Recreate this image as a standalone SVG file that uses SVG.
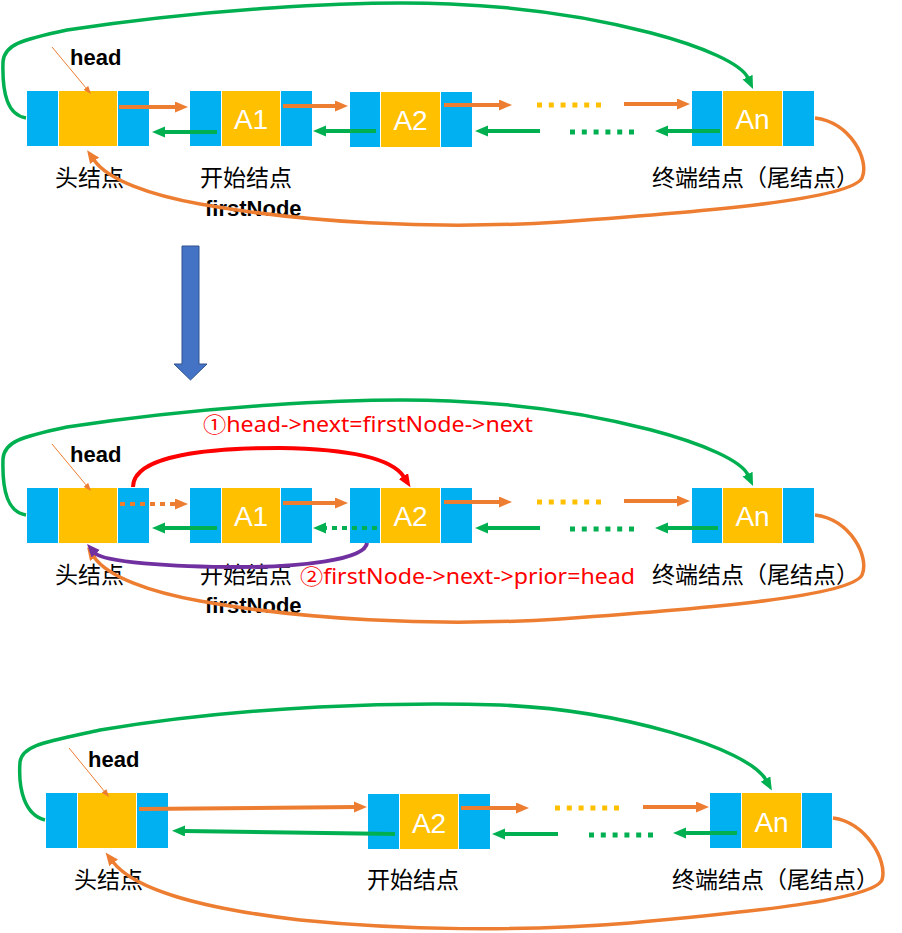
<svg xmlns="http://www.w3.org/2000/svg" width="902" height="933" viewBox="0 0 902 933">
<style>
.b{fill:#00B0F0}
.y{fill:#FFC000}
.nt{font-family:"Liberation Sans",Arial,sans-serif;font-size:28px;fill:#FFFFFF;text-anchor:middle}
.cn{font-family:"Noto Sans CJK SC",sans-serif;font-size:23px;fill:#000000}
.bd{font-family:"Liberation Sans",Arial,sans-serif;font-size:22px;font-weight:bold;fill:#000000}
.rd{font-family:"Noto Sans","Noto Sans CJK SC",sans-serif;font-size:21px;fill:#FF0000}
.ao{stroke:#ED7D31;stroke-width:4;fill:none;marker-end:url(#mo)}
.ag{stroke:#00B050;stroke-width:4;fill:none;marker-end:url(#mg)}
.dy{stroke:#FFC000;stroke-width:5;stroke-dasharray:5 6.8;fill:none}
.dg{stroke:#00B050;stroke-width:5;stroke-dasharray:5 6.8;fill:none}
.cg{stroke:#00B050;stroke-width:3.5;fill:none;marker-end:url(#mg)}
.co{stroke:#ED7D31;stroke-width:3.5;fill:none;marker-end:url(#mo)}
.hp{stroke:#ED7D31;stroke-width:1;fill:none;marker-end:url(#mh)}
</style>
<defs>
<marker id="mo" markerUnits="userSpaceOnUse" markerWidth="14" markerHeight="12" refX="1" refY="5.5" orient="auto"><path d="M0,0 L13,5.5 L0,11 z" fill="#ED7D31"/></marker>
<marker id="mg" markerUnits="userSpaceOnUse" markerWidth="14" markerHeight="12" refX="1" refY="5.5" orient="auto"><path d="M0,0 L13,5.5 L0,11 z" fill="#00B050"/></marker>
<marker id="mr" markerUnits="userSpaceOnUse" markerWidth="14" markerHeight="12" refX="1" refY="5.5" orient="auto"><path d="M0,0 L13,5.5 L0,11 z" fill="#FF0000"/></marker>
<marker id="mp" markerUnits="userSpaceOnUse" markerWidth="14" markerHeight="12" refX="1" refY="5.5" orient="auto"><path d="M0,0 L13,5.5 L0,11 z" fill="#7030A0"/></marker>
<marker id="mh" markerUnits="userSpaceOnUse" markerWidth="9" markerHeight="7" refX="0" refY="3" orient="auto"><path d="M0,0 L8,3 L0,6 z" fill="#ED7D31"/></marker>
</defs>

<!-- ===== Section 1 ===== -->
<g id="s1-head"><rect class="b" x="27" y="91" width="31" height="55"/><rect class="y" x="59" y="91" width="58" height="55"/><rect class="b" x="118" y="91" width="31" height="55"/></g>
<g id="s1-a1"><rect class="b" x="190" y="91" width="31" height="55"/><rect class="y" x="222" y="91" width="58" height="55"/><rect class="b" x="281" y="91" width="31" height="55"/><text class="nt" x="251" y="129">A1</text></g>
<g id="s1-a2"><rect class="b" x="350" y="92" width="30" height="55"/><rect class="y" x="381" y="92" width="59" height="55"/><rect class="b" x="441" y="92" width="31" height="55"/><text class="nt" x="410.5" y="130">A2</text></g>
<g id="s1-an"><rect class="b" x="692" y="91" width="30" height="55"/><rect class="y" x="723" y="91" width="59" height="55"/><rect class="b" x="783" y="91" width="31" height="55"/><text class="nt" x="752.5" y="129">An</text></g>
<g id="s1-labels">
<text class="bd" x="70" y="65">head</text>
<text class="cn" x="55" y="186">头结点</text>
<text class="cn" x="200" y="186">开始结点</text>
<text class="bd" x="205" y="216">firstNode</text>
<text class="cn" x="652" y="186">终端结点（尾结点）</text>
</g>
<g id="s1-connectors">
<path class="hp" d="M52,47 L85.9,87.8"/>
<path class="ao" d="M119,107 L176,107"/>
<path class="ag" d="M217,132 L164,132"/>
<path class="ao" d="M283,106 L336,106"/>
<path class="ag" d="M376,131 L325,131"/>
<path class="ao" d="M444,105 L500,105"/>
<path class="dy" d="M537,105 L601,105"/>
<path class="ao" d="M624,104 L678,104"/>
<path class="ag" d="M540,131 L487,131"/>
<path class="dg" d="M570,132 L634,132"/>
<path class="ag" d="M720,131 L667,131"/>
<path class="cg" d="M26,118 C8,115 2,95 3,62 C4,45 20,40 67,30 C200,10 350,0 450,4 C600,10 735,50 748,78"/>
<path class="co" d="M815,118 C850,122 870,160 862,178 C850,200 700,212 560,222 C430,230 300,222 200,204 C150,195 108,180 94,160"/>
</g>

<!-- Block arrow -->
<g id="down-arrow"><polygon points="182,246 199,246 199,364 207,364 190.5,380 174,364 182,364" fill="#4472C4" stroke="#2F528F" stroke-width="1"/></g>

<!-- ===== Section 2 ===== -->
<g id="s2-head"><rect class="b" x="27" y="488" width="31" height="55"/><rect class="y" x="59" y="488" width="58" height="55"/><rect class="b" x="118" y="488" width="31" height="55"/></g>
<g id="s2-a1"><rect class="b" x="190" y="488" width="31" height="55"/><rect class="y" x="222" y="488" width="58" height="55"/><rect class="b" x="281" y="488" width="31" height="55"/><text class="nt" x="251" y="526">A1</text></g>
<g id="s2-a2"><rect class="b" x="350" y="488" width="30" height="55"/><rect class="y" x="381" y="488" width="59" height="55"/><rect class="b" x="441" y="488" width="31" height="55"/><text class="nt" x="410.5" y="526">A2</text></g>
<g id="s2-an"><rect class="b" x="692" y="488" width="30" height="55"/><rect class="y" x="723" y="488" width="59" height="55"/><rect class="b" x="783" y="488" width="31" height="55"/><text class="nt" x="752.5" y="526">An</text></g>
<g id="s2-labels">
<text class="bd" x="70" y="462">head</text>
<text class="cn" x="55" y="583">头结点</text>
<text class="cn" x="200" y="583">开始结点</text>
<text class="bd" x="205" y="613">firstNode</text>
<text class="cn" x="652" y="583">终端结点（尾结点）</text>
<text class="rd" x="203" y="432" textLength="330" lengthAdjust="spacingAndGlyphs">①head-&gt;next=firstNode-&gt;next</text>
<text class="rd" x="300" y="584" textLength="335" lengthAdjust="spacingAndGlyphs">②firstNode-&gt;next-&gt;prior=head</text>
</g>
<g id="s2-connectors">
<path class="hp" d="M52,444 L85.9,484.8"/>
<path d="M120,504 L176,504" stroke="#ED7D31" stroke-width="4" stroke-dasharray="5 5" fill="none" marker-end="url(#mo)"/>
<path class="ag" d="M217,528 L164,528"/>
<path class="ao" d="M283,503 L336,503"/>
<path d="M377,528 L325,528" stroke="#00B050" stroke-width="4" stroke-dasharray="5 5" fill="none" marker-end="url(#mg)"/>
<path class="ao" d="M444,502 L500,502"/>
<path class="dy" d="M537,502 L601,502"/>
<path class="ao" d="M624,501 L678,501"/>
<path class="ag" d="M540,528 L487,528"/>
<path class="dg" d="M570,529 L634,529"/>
<path class="ag" d="M718,528 L667,528"/>
<path class="cg" d="M26,515 C8,512 2,492 3,459 C4,442 20,437 67,427 C200,407 350,397 450,401 C600,407 735,447 748,475"/>
<path class="co" d="M815,515 C850,519 870,557 862,575 C850,597 700,609 560,619 C430,627 300,619 200,601 C150,592 108,577 94,557"/>
<path d="M133,487 C133,455 210,448 280,448 C350,449 392,458 404,477" stroke="#FF0000" stroke-width="4" fill="none" marker-end="url(#mr)"/>
<path d="M367,543 C365,560 300,567 240,567 C170,567 103,562 95,553" stroke="#7030A0" stroke-width="4" fill="none" marker-end="url(#mp)"/>
</g>

<!-- ===== Section 3 ===== -->
<g id="s3-head"><rect class="b" x="46" y="793" width="31" height="55"/><rect class="y" x="78" y="793" width="58" height="55"/><rect class="b" x="137" y="793" width="31" height="55"/></g>
<g id="s3-a2"><rect class="b" x="368" y="794" width="31" height="55"/><rect class="y" x="400" y="794" width="58" height="55"/><rect class="b" x="459" y="794" width="31" height="55"/><text class="nt" x="429" y="833">A2</text></g>
<g id="s3-an"><rect class="b" x="710" y="793" width="31" height="55"/><rect class="y" x="742" y="793" width="59" height="55"/><rect class="b" x="802" y="793" width="30" height="55"/><text class="nt" x="771.5" y="832">An</text></g>
<g id="s3-labels">
<text class="bd" x="88" y="767">head</text>
<text class="cn" x="74" y="888">头结点</text>
<text class="cn" x="367" y="888">开始结点</text>
<text class="cn" x="672" y="888">终端结点（尾结点）</text>
</g>
<g id="s3-connectors">
<path class="hp" d="M69,748 L104,790.8"/>
<path class="ao" d="M139,809 L355,807"/>
<path class="ag" d="M395,834 L184,831"/>
<path class="ao" d="M461,808 L517,808"/>
<path class="dy" d="M555,808 L619,808"/>
<path class="ao" d="M643,807 L697,807"/>
<path class="ag" d="M558,834 L504,834"/>
<path class="dg" d="M589,835 L653,835"/>
<path class="ag" d="M737,833 L685,833"/>
<path class="cg" d="M45,820 C25,815 18,790 20,762 C22,745 45,742 100,730 C250,705 400,702 500,705 C620,710 748,748 766,780"/>
<path class="co" d="M833,818 C865,822 888,860 882,880 C872,900 750,912 630,923 C520,932 400,930 300,920 C200,908 135,890 113,862"/>
</g>
</svg>
